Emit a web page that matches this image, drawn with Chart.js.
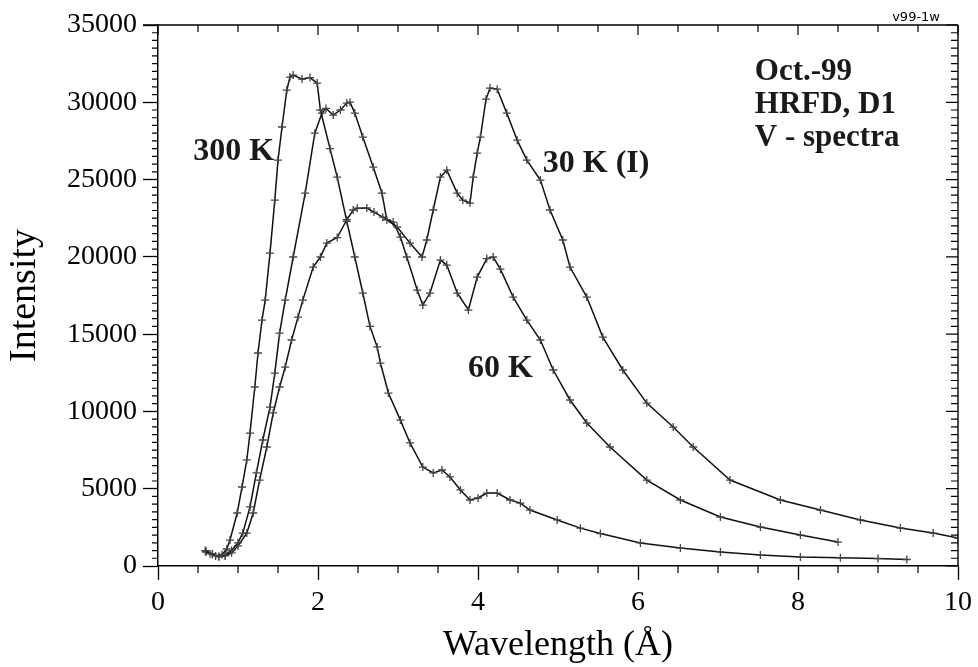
<!DOCTYPE html>
<html><head><meta charset="utf-8">
<script src="https://cdn.jsdelivr.net/npm/chart.js@4/dist/chart.umd.min.js"></script>
<style>html,body{margin:0;padding:0;background:#fff}canvas{display:block}</style>
</head><body>
<canvas id="c" width="978" height="667"></canvas>
<script>
// ---------- data ----------
const wavelength300K = [0.59,0.65,0.72,0.80,0.86,0.90,0.99,1.05,1.11,1.15,1.21,1.25,1.30,1.34,1.40,1.46,1.50,1.55,1.61,1.65,1.69,1.80,1.90,1.99,2.03,2.15,2.24,2.36,2.46,2.56,2.65,2.74,2.78,2.88,3.03,3.15,3.31,3.44,3.55,3.65,3.78,3.90,4.00,4.11,4.24,4.40,4.53,4.65,4.99,5.28,5.53,6.03,6.53,7.03,7.53,8.03,8.53,9.00,9.36];
const intensity300K  = [1000,800,650,750,1100,1680,3430,5110,6860,8600,11580,13780,15910,17200,20240,23670,26260,28400,30790,31630,31760,31500,31600,31240,29500,27000,25160,22300,19990,17660,15500,14170,13130,11190,9440,7960,6400,6020,6210,5760,4920,4270,4400,4720,4720,4270,4070,3620,2980,2450,2100,1490,1160,910,710,580,530,480,420];

const wavelength30K = [0.60,0.68,0.76,0.84,0.92,1.00,1.06,1.15,1.23,1.31,1.40,1.46,1.52,1.59,1.69,1.84,1.96,2.05,2.10,2.19,2.28,2.36,2.40,2.46,2.56,2.69,2.80,2.86,2.99,3.15,3.30,3.36,3.44,3.53,3.61,3.74,3.81,3.90,3.94,3.99,4.03,4.10,4.15,4.24,4.36,4.49,4.61,4.78,4.90,5.06,5.15,5.36,5.56,5.81,6.11,6.44,6.69,7.15,7.78,8.28,8.78,9.28,9.69,10.0];
const intensity30K  = [900,750,620,700,1000,1500,2130,3820,6020,8150,10280,12480,15070,17200,19990,24120,28000,29300,29600,29170,29500,29950,30010,29300,27750,25810,24120,22400,21930,20890,19990,21090,23030,25160,25610,24120,23670,23480,25160,26710,27750,30200,30920,30850,29300,27550,26260,24970,23030,21090,19340,17400,14810,12680,10540,8990,7700,5560,4270,3620,2980,2460,2130,1810];

const wavelength60K = [0.60,0.68,0.76,0.84,0.92,1.00,1.11,1.19,1.27,1.36,1.44,1.52,1.59,1.67,1.75,1.81,1.94,2.03,2.11,2.24,2.36,2.44,2.49,2.61,2.70,2.81,2.94,3.03,3.11,3.24,3.31,3.40,3.53,3.61,3.74,3.88,3.99,4.11,4.19,4.28,4.44,4.61,4.78,4.94,5.15,5.36,5.65,6.11,6.53,7.03,7.53,8.03,8.50];
const intensity60K  = [950,800,600,650,850,1300,2130,3430,5560,7700,9900,11580,12870,14620,16100,17200,19340,19990,20890,21250,22400,23030,23150,23160,22900,22570,22250,21280,19990,17850,16880,17660,19790,19470,17660,16560,18690,19890,19990,19200,17400,15910,14620,12680,10740,9250,7700,5560,4270,3170,2520,2000,1550];

const xTickValues = [0,2,4,6,8,10];
const yTickValues = [0,5000,10000,15000,20000,25000,30000,35000];
const seriesNames = ['300 K','30 K (I)','60 K'];

// ---------- presentation ----------
const serif = "'Liberation Serif','Times New Roman',serif";
const annotations = [
  {text:'300 K',    x:0.44, y:26260, size:32},
  {text:'30 K (I)', x:4.81, y:25480, size:32},
  {text:'60 K',     x:3.875,y:12220, size:32},
  {text:'Oct.-99',  x:7.46, y:31430, size:31},
  {text:'HRFD, D1', x:7.46, y:29300, size:31},
  {text:'V - spectra', x:7.46, y:27170, size:31}
];

function ds(label, xs, ys){
  return {
    label, data: xs.map((x,i)=>({x, y: ys[i]})),
    borderColor:'#111', borderWidth:1.5, tension:0,
    pointStyle:'cross', pointRadius:4, pointBorderColor:'#444', pointBorderWidth:1.3,
    pointBackgroundColor:'#444', fill:false
  };
}

const framePlugin = {
  id:'frame',
  afterDraw(chart){
    const {ctx, chartArea:a, scales:{x, y}} = chart;
    ctx.save();
    ctx.strokeStyle = '#000';
    ctx.lineWidth = 1.4;
    ctx.beginPath();
    ctx.moveTo(a.left-15, a.top); ctx.lineTo(a.right, a.top);
    ctx.moveTo(a.right, a.top); ctx.lineTo(a.right, a.bottom);
    ctx.stroke();
    ctx.lineWidth = 1.2;
    ctx.beginPath();
    for (let v = 0; v <= 10.001; v += 0.5) {
      const px = x.getPixelForValue(v);
      const major = Math.abs(v/2 - Math.round(v/2)) < 1e-6;
      if (!major) { ctx.moveTo(px, a.bottom); ctx.lineTo(px, a.bottom+7); }
      ctx.moveTo(px, a.top); ctx.lineTo(px, a.top + (major ? 10 : 7));
    }
    for (let v = 0; v <= 35000; v += 500) {
      const py = y.getPixelForValue(v);
      const major = v % 5000 === 0;
      if (!major) { ctx.moveTo(a.left-6, py); ctx.lineTo(a.left, py); }
      ctx.moveTo(a.right, py); ctx.lineTo(a.right - (major ? 12 : 7), py);
    }
    ctx.stroke();
    // text annotations
    ctx.fillStyle = '#1a1a1a';
    ctx.textAlign = 'left';
    ctx.textBaseline = 'alphabetic';
    annotations.forEach(t => {
      ctx.font = `bold ${t.size}px ${serif}`;
      ctx.fillText(t.text, x.getPixelForValue(t.x), y.getPixelForValue(t.y));
    });
    ctx.font = "13px 'DejaVu Sans', sans-serif";
    ctx.textAlign = 'right';
    ctx.fillStyle = '#000';
    ctx.fillText('v99-1w', a.right - 18, a.top - 4);
    ctx.restore();
  }
};

new Chart(document.getElementById('c'), {
  type:'line',
  data:{ datasets:[
    ds(seriesNames[0], wavelength300K, intensity300K),
    ds(seriesNames[1], wavelength30K, intensity30K),
    ds(seriesNames[2], wavelength60K, intensity60K)
  ]},
  options:{
    responsive:false, animation:false,
    layout:{padding:{top:25, right:20, left:0, bottom:0}},
    plugins:{legend:{display:false}, tooltip:{enabled:false}},
    scales:{
      x:{
        type:'linear', min:0, max:10,
        afterBuildTicks: s => { s.ticks = xTickValues.map(v => ({value:v})); },
        afterFit: s => { s.height = 101; },
        grid:{drawOnChartArea:false, tickLength:14, tickColor:'#000', tickWidth:1.3},
        border:{color:'#000', width:1.5},
        ticks:{font:{family:serif, size:28}, color:'#000', padding:6, maxRotation:0, autoSkip:false,
               callback: v => String(v)},
        title:{display:true, text:'Wavelength (Å)', font:{family:serif, size:36}, color:'#000', padding:{top:0, bottom:0}}
      },
      y:{
        type:'linear', min:0, max:35000,
        afterBuildTicks: s => { s.ticks = yTickValues.map(v => ({value:v})); },
        afterFit: s => { s.width = 158; },
        grid:{drawOnChartArea:false, tickLength:15, tickColor:'#000', tickWidth:1.3},
        border:{color:'#000', width:1.5},
        ticks:{font:{family:serif, size:28}, color:'#000', padding:6, autoSkip:false,
               callback: v => String(v)},
        title:{display:true, text:'Intensity', font:{family:serif, size:38}, color:'#000', padding:{top:2, bottom:0}}
      }
    }
  },
  plugins:[framePlugin]
});
</script>
</body></html>
